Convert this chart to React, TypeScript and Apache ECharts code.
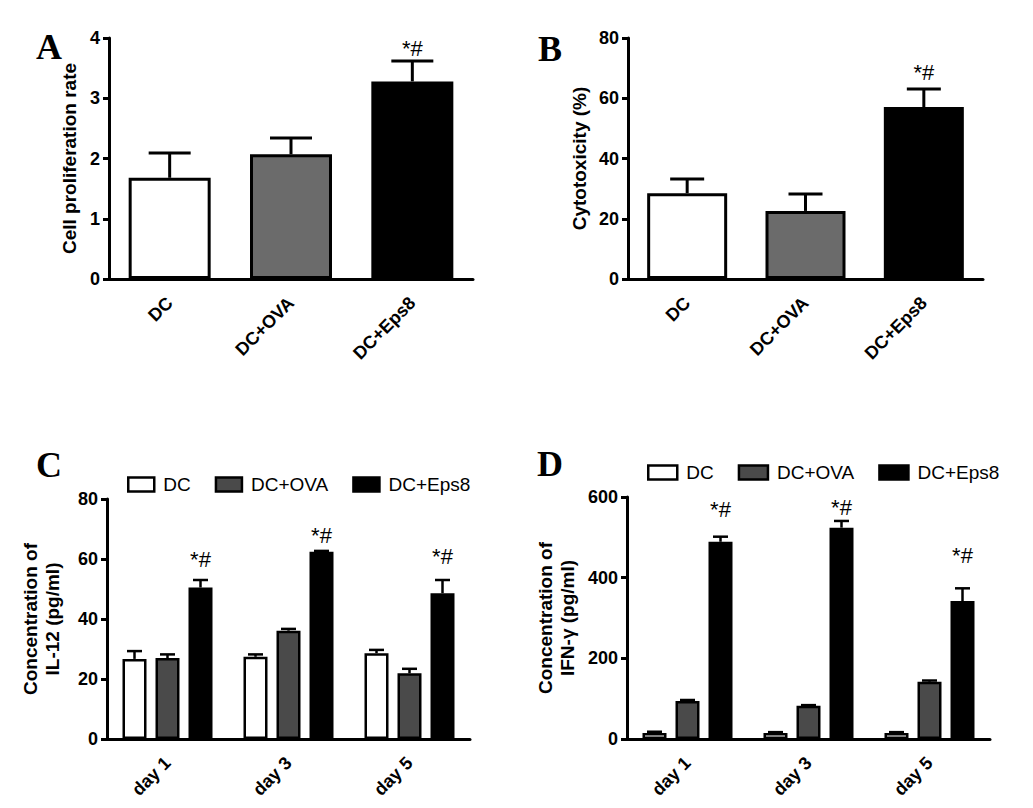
import { useEffect, useRef } from "react";
import * as echarts from "echarts";

const groups = ["DC", "DC+OVA", "DC+Eps8"];
const days = ["day 1", "day 3", "day 5"];

// panel A: cell proliferation rate
const prolifMean = [1.68, 2.07, 3.28];
const prolifUpper = [2.09, 2.34, 3.62];
const prolifMark = [null, null, 3.83];

// panel B: cytotoxicity (%)
const cytoMean = [28.5, 22.6, 57.1];
const cytoUpper = [33.2, 28.2, 63.1];
const cytoMark = [null, null, 68.4];

// panel C: IL-12 (pg/ml), by day
const il12DC = [26.7, 27.4, 28.6];
const il12DCUpper = [29.3, 28.2, 29.7];
const il12OVA = [27.0, 36.1, 21.9];
const il12OVAUpper = [28.2, 36.7, 23.4];
const il12Eps8 = [50.5, 62.4, 48.6];
const il12Eps8Upper = [53.0, 62.7, 53.0];
const il12Mark = [59.7, 68.0, 61.0];

// panel D: IFN-γ (pg/ml), by day
const ifnDC = [15, 15, 15];
const ifnDCUpper = [18, 17, 17];
const ifnOVA = [94, 82.6, 142];
const ifnOVAUpper = [96.7, 84, 145];
const ifnEps8 = [489, 524, 342];
const ifnEps8Upper = [501.6, 540.6, 373.6];
const ifnMark = [568, 573, 456];

const SANS = '"Liberation Sans", Arial, sans-serif';
const SERIF = '"Liberation Serif", "Times New Roman", serif';
const grayAB = "#6b6b6b";
const grayCD = "#4a4a4a";

function errorSeries(
  axis: number,
  means: number[],
  uppers: number[],
  offset: number,
  cap: number,
  width: number
) {
  return {
    type: "custom",
    xAxisIndex: axis,
    yAxisIndex: axis,
    clip: false,
    silent: true,
    data: means.map((m, i) => [i, m, uppers[i]]),
    encode: { x: 0, y: [1, 2] },
    renderItem: (_params: any, api: any) => {
      const base = api.coord([api.value(0), api.value(1)]);
      const top = api.coord([api.value(0), api.value(2)]);
      const x = base[0] + offset;
      const style = { stroke: "#000", lineWidth: width };
      return {
        type: "group",
        children: [
          { type: "line", shape: { x1: x, y1: base[1], x2: x, y2: top[1] }, style },
          { type: "line", shape: { x1: x - cap / 2, y1: top[1], x2: x + cap / 2, y2: top[1] }, style },
        ],
      };
    },
  };
}

function markSeries(axis: number, marks: (number | null)[], offset: number) {
  return {
    type: "custom",
    xAxisIndex: axis,
    yAxisIndex: axis,
    clip: false,
    silent: true,
    data: marks.map((m, i) => [i, m]).filter((d) => d[1] != null),
    encode: { x: 0, y: 1 },
    renderItem: (_params: any, api: any) => {
      const p = api.coord([api.value(0), api.value(1)]);
      return {
        type: "text",
        x: p[0] + offset,
        y: p[1],
        style: {
          text: "*#",
          fill: "#000",
          font: `22px ${SANS}`,
          align: "center",
          verticalAlign: "middle",
        },
      };
    },
  };
}

function valueAxis(grid: number, max: number, interval: number, name: string, nameGap: number) {
  return {
    type: "value",
    gridIndex: grid,
    min: 0,
    max,
    interval,
    name,
    nameLocation: "middle",
    nameGap,
    nameTextStyle: { fontFamily: SANS, fontWeight: "bold", fontSize: 19, color: "#000", lineHeight: 22 },
    axisLine: { show: true, lineStyle: { color: "#000", width: 3 } },
    axisTick: { show: true, length: 6, lineStyle: { color: "#000", width: 3 } },
    axisLabel: { fontFamily: SANS, fontWeight: "bold", fontSize: 18, color: "#000", margin: 9 },
    splitLine: { show: false },
  };
}

function categoryAxis(grid: number, data: string[]) {
  return {
    type: "category",
    gridIndex: grid,
    data,
    axisLine: { lineStyle: { color: "#000", width: 3 } },
    axisTick: { alignWithLabel: true, length: 7, lineStyle: { color: "#000", width: 3 } },
    axisLabel: {
      fontFamily: SANS,
      fontWeight: "bold",
      fontSize: 18,
      color: "#000",
      rotate: 45,
      margin: 21,
    },
  };
}

function groupedBars(axis: number, values: number[][]) {
  const colors = ["#ffffff", grayCD, "#000000"];
  return values.map((vals, k) => ({
    name: groups[k],
    type: "bar",
    xAxisIndex: axis,
    yAxisIndex: axis,
    barWidth: 24,
    barGap: "37.5%",
    data: vals,
    itemStyle: { color: colors[k], borderColor: "#000", borderWidth: 2.5 },
  }));
}

function legendAt(left: number, top: number, itemWidth: number) {
  return {
    data: groups,
    left,
    top,
    icon: "rect",
    itemWidth,
    itemHeight: 14,
    itemGap: 24,
    selectedMode: false,
    itemStyle: { borderColor: "#000", borderWidth: 2.5 },
    textStyle: { fontFamily: SANS, fontSize: 19, color: "#000", padding: [0, 0, 0, 4] },
  };
}

const panelLetter = (text: string, x: number, y: number) => ({
  type: "text",
  left: x,
  top: y,
  style: { text, font: `bold 36px ${SERIF}`, fill: "#000" },
});

export default function App() {
  const chartRef = useRef<HTMLDivElement>(null);

  useEffect(() => {
    if (!chartRef.current) return;
    const chart = echarts.init(chartRef.current, null, { renderer: "svg" });

    const abColors = ["#ffffff", grayAB, "#000000"];
    const offs = [-33, 0, 33];

    chart.setOption({
      animation: false,
      backgroundColor: "#ffffff",
      grid: [
        { left: 109, top: 38, width: 364, height: 241 },
        { left: 628, top: 38, width: 355, height: 241 },
        { left: 107, top: 499, width: 363, height: 240 },
        { left: 627, top: 497, width: 363, height: 242 },
      ],
      xAxis: [
        categoryAxis(0, groups),
        categoryAxis(1, groups),
        categoryAxis(2, days),
        categoryAxis(3, days),
      ],
      yAxis: [
        valueAxis(0, 4, 1, "Cell proliferation rate", 29),
        valueAxis(1, 80, 20, "Cytotoxicity (%)", 38),
        valueAxis(2, 80, 20, "Concentration of\nIL-12 (pg/ml)", 44),
        valueAxis(3, 600, 200, "Concentration of\nIFN-γ (pg/ml)", 49),
      ],
      legend: [legendAt(122, 470, 26), legendAt(642, 458, 29)],
      graphic: [
        panelLetter("A", 36, 29),
        panelLetter("B", 538, 31),
        panelLetter("C", 36, 447),
        panelLetter("D", 537, 446),
      ],
      series: [
        {
          name: "Cell proliferation rate",
          type: "bar",
          xAxisIndex: 0,
          yAxisIndex: 0,
          barWidth: 82,
          data: prolifMean.map((v, i) => ({ value: v, itemStyle: { color: abColors[i] } })),
          itemStyle: { borderColor: "#000", borderWidth: 3 },
        },
        errorSeries(0, prolifMean, prolifUpper, 0, 42, 3),
        markSeries(0, prolifMark, 0),
        {
          name: "Cytotoxicity",
          type: "bar",
          xAxisIndex: 1,
          yAxisIndex: 1,
          barWidth: 80,
          data: cytoMean.map((v, i) => ({ value: v, itemStyle: { color: abColors[i] } })),
          itemStyle: { borderColor: "#000", borderWidth: 3 },
        },
        errorSeries(1, cytoMean, cytoUpper, 0, 34, 3),
        markSeries(1, cytoMark, 0),
        ...groupedBars(2, [il12DC, il12OVA, il12Eps8]),
        errorSeries(2, il12DC, il12DCUpper, offs[0], 15, 2.5),
        errorSeries(2, il12OVA, il12OVAUpper, offs[1], 15, 2.5),
        errorSeries(2, il12Eps8, il12Eps8Upper, offs[2], 15, 2.5),
        markSeries(2, il12Mark, offs[2]),
        ...groupedBars(3, [ifnDC, ifnOVA, ifnEps8]),
        errorSeries(3, ifnDC, ifnDCUpper, offs[0], 15, 2.5),
        errorSeries(3, ifnOVA, ifnOVAUpper, offs[1], 15, 2.5),
        errorSeries(3, ifnEps8, ifnEps8Upper, offs[2], 15, 2.5),
        markSeries(3, ifnMark, offs[2]),
      ],
    });

    return () => {
      chart.dispose();
    };
  }, []);

  return (
    <div
      ref={chartRef}
      style={{ position: "absolute", left: 0, top: 0, width: 1033, height: 808 }}
    ></div>
  );
}
